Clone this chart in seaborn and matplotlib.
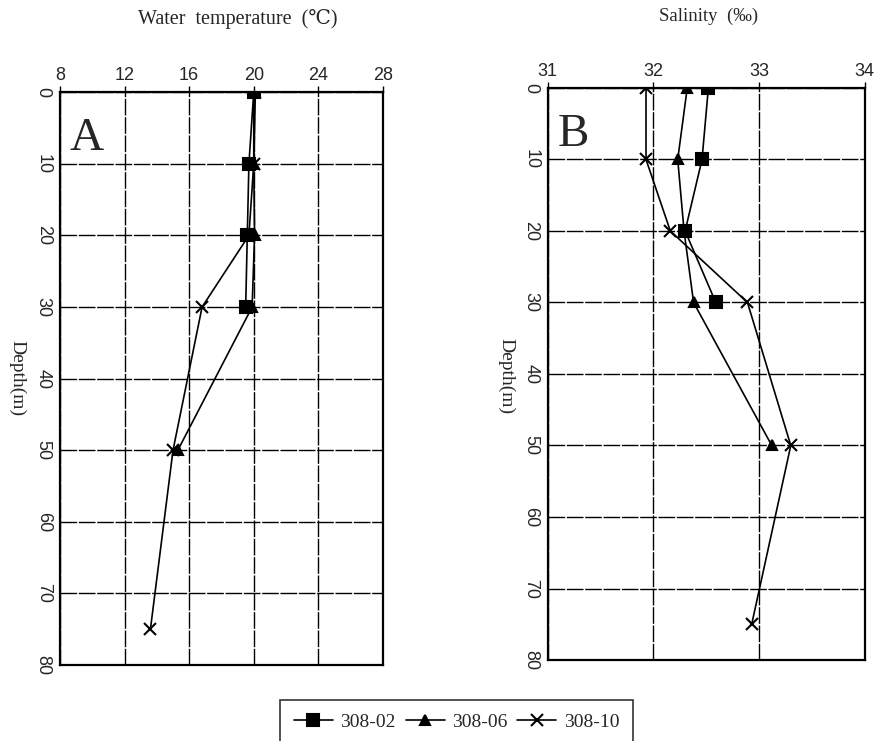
import numpy as np
import pandas as pd
import seaborn as sns
import matplotlib.pyplot as plt
from matplotlib.lines import Line2D

# data
stations = ["308-02", "308-06", "308-10"]
depth_02 = [0, 10, 20, 30]
depth_06 = [0, 10, 20, 30, 50]
depth_10 = [0, 10, 20, 30, 50, 75]
temp_02 = [20.0, 19.7, 19.6, 19.5]
temp_06 = [20.1, 20.0, 20.05, 19.9, 15.3]
temp_10 = [20.0, 20.0, 19.7, 16.8, 15.0, 13.6]
sal_02 = [32.52, 32.46, 32.30, 32.59]
sal_06 = [32.32, 32.23, 32.29, 32.38, 33.12]
sal_10 = [31.93, 31.93, 32.16, 32.89, 33.30, 32.93]
temp_ticks = [8, 12, 16, 20, 24, 28]
sal_ticks = [31, 32, 33, 34]
depth_ticks = [0, 10, 20, 30, 40, 50, 60, 70, 80]

rows = []
for st, d, t, s in zip(stations, [depth_02, depth_06, depth_10],
                       [temp_02, temp_06, temp_10], [sal_02, sal_06, sal_10]):
    for dd, tt, ss in zip(d, t, s):
        rows.append({"station": st, "depth": dd, "temp": tt, "sal": ss})
df = pd.DataFrame(rows)

sns.set_style("white")
serif = ["Liberation Serif", "DejaVu Serif"]
sans = ["Liberation Sans", "DejaVu Sans"]

markers = {"308-02": "s", "308-06": "^", "308-10": "x"}
msize = {"308-02": 8, "308-06": 7, "308-10": 9}

fig = plt.figure(figsize=(8.75, 7.41), dpi=100)
axA = fig.add_axes([0.0686, 0.1026, 0.369, 0.773])
axB = fig.add_axes([0.626, 0.1093, 0.3623, 0.772])

def draw(ax, col, ticks, letter):
    for st in stations:
        d = df[df["station"] == st]
        sns.lineplot(data=d, x=col, y="depth", ax=ax, sort=False, estimator=None,
                     color="black", marker=markers[st], markersize=msize[st],
                     markeredgewidth=1.5, linewidth=1.2, markeredgecolor="black")
    ax.set_xlim(ticks[0], ticks[-1])
    ax.set_ylim(80, 0)
    ax.set_xticks(ticks)
    ax.set_yticks(depth_ticks)
    ax.xaxis.tick_top()
    ax.grid(True, color="black", linewidth=1.0, linestyle=(0, (12, 1.2)))
    ax.set_axisbelow(True)
    for sp in ax.spines.values():
        sp.set_visible(True)
        sp.set_color("black")
        sp.set_linewidth(1.6)
    ax.tick_params(axis="both", direction="out", length=4, width=1, color="black",
                   labelsize=13, pad=2)
    for lab in ax.get_xticklabels():
        lab.set_family(sans)
    for lab in ax.get_yticklabels():
        lab.set_family(sans)
        lab.set_rotation(270)
        lab.set_va("center")
    ax.set_xlabel("")
    ax.set_ylabel("")
    ax.text(0.03, 0.955, letter, transform=ax.transAxes, family=serif,
            fontsize=34, va="top", ha="left")

draw(axA, "temp", temp_ticks, "A")
draw(axB, "sal", sal_ticks, "B")

fig.text(0.272, 0.975, "Water  temperature  (\u2103)", family=serif, fontsize=14.5,
         ha="center", va="center")
fig.text(0.81, 0.978, "Salinity  (\u2030)", family=serif, fontsize=13.5,
         ha="center", va="center")
fig.text(0.019, 0.49, "Depth(m)", family=serif, fontsize=14,
         rotation=270, ha="center", va="center")
fig.text(0.578, 0.493, "Depth(m)", family=serif, fontsize=14,
         rotation=270, ha="center", va="center")

handles = [Line2D([], [], color="black", marker=markers[st], markersize=msize[st],
                  markeredgewidth=1.5, linewidth=1.2) for st in stations]
leg = fig.legend(handles, stations, loc="center", bbox_to_anchor=(0.522, 0.025),
                 ncol=3, frameon=True, fancybox=False, handlelength=2.0,
                 handletextpad=0.4, columnspacing=0.5, borderpad=0.7,
                 prop={"family": serif, "size": 14})
leg.get_frame().set_edgecolor("black")
leg.get_frame().set_linewidth(1.2)

fig.savefig("out.png", dpi=100, facecolor="white")
